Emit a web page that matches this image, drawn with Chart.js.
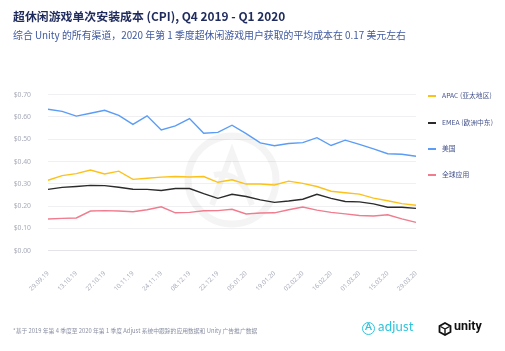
<!DOCTYPE html>
<html>
<head>
<meta charset="utf-8">
<script src="https://cdn.jsdelivr.net/npm/chart.js@4"></script>
<style>
    body { margin: 0; background: #fff; font-family: "Noto Sans CJK SC", "Noto Sans", sans-serif; }
    #wrap { position: relative; width: 505px; height: 351px; overflow: hidden; }
    #wrap canvas { position: absolute; left: 0; top: 0; }
    .title { position: absolute; left: 13px; top: 7px; font-size: 11.9px; font-weight: bold; color: #1f2b5c; white-space: nowrap; }
    .subtitle { position: absolute; left: 13px; top: 28px; font-size: 9.9px; color: #40599e; white-space: nowrap; }
    .legend { position: absolute; left: 428px; top: 0; }
    .legend-item { position: absolute; left: 0; height: 10px; white-space: nowrap; font-size: 6.8px; color: #44528c; }
    .legend-item span.mark { position: absolute; left: 0; top: 5px; width: 8px; height: 1.5px; }
    .legend-item span.txt { position: absolute; left: 14px; top: 0; line-height: 10px; }
    .footer { position: absolute; left: 13px; top: 326px; font-size: 5.8px; color: #8b90a3; white-space: nowrap; }
    .adjust { position: absolute; left: 362px; top: 321px; height: 16px; color: #2ec4dc; font-family: "Lato", sans-serif; font-size: 13px; }
    .adjust .ic { position: absolute; left: 0; top: 1px; width: 11px; height: 11px; border: 1.6px solid #2ec4dc; border-radius: 50%; }
    .adjust .ic b { position: absolute; left: 2px; top: -3px; font-size: 10px; font-weight: bold; }
    .adjust .tx { position: absolute; left: 16px; top: -3px; letter-spacing: 0.2px; }
    .unity { position: absolute; left: 438px; top: 321px; color: #111; font-family: "Roboto", sans-serif; font-weight: bold; font-size: 12.5px; }
    .unity .ic { position: absolute; left: 0; top: 1px; }
    .unity .tx { position: absolute; left: 16px; top: -3px; }
</style>
</head>
<body>
<div id="wrap">
    <canvas id="cpiChart" width="505" height="351"></canvas>
    <div class="title">超休闲游戏单次安装成本 (CPI), Q4 2019 - Q1 2020</div>
    <div class="subtitle">综合 Unity 的所有渠道，2020 年第 1 季度超休闲游戏用户获取的平均成本在 0.17 美元左右</div>
    <div class="legend" id="legend"></div>
    <div class="footer">*基于 2019 年第 4 季度至 2020 年第 1 季度 Adjust 系统中跟踪的应用数据和 Unity 广告推广数据</div>
    <div class="adjust"><div class="ic"><b>A</b></div><div class="tx">adjust</div></div>
    <div class="unity">
        <svg class="ic" width="14" height="14" viewBox="0 0 14 14">
            <path d="M7 1 L12.5 4 L12.5 10 L7 13 L1.5 10 L1.5 4 Z" fill="none" stroke="#111" stroke-width="1.8"/>
            <path d="M7 7 L7 12 M7 7 L2.5 4.5 M7 7 L11.5 4.5" stroke="#111" stroke-width="1.4"/>
        </svg>
        <div class="tx">unity</div>
    </div>
</div>
<script>
// weekly dates
const weeks = ['29.09.19', '06.10.19', '13.10.19', '20.10.19', '27.10.19', '03.11.19', '10.11.19',
    '17.11.19', '24.11.19', '01.12.19', '08.12.19', '15.12.19', '22.12.19', '29.12.19', '05.01.20',
    '12.01.20', '19.01.20', '26.01.20', '02.02.20', '09.02.20', '16.02.20', '23.02.20', '01.03.20',
    '08.03.20', '15.03.20', '22.03.20', '29.03.20'];

const apac = [0.316, 0.337, 0.346, 0.362, 0.344, 0.357, 0.320, 0.325, 0.330, 0.333, 0.331, 0.333, 0.307, 0.318,
    0.299, 0.299, 0.295, 0.312, 0.302, 0.288, 0.267, 0.260, 0.254, 0.236, 0.224, 0.211, 0.204];
const emea = [0.275, 0.284, 0.288, 0.293, 0.292, 0.285, 0.276, 0.275, 0.270, 0.279, 0.279, 0.256, 0.235, 0.253,
    0.243, 0.228, 0.217, 0.223, 0.231, 0.253, 0.235, 0.221, 0.219, 0.210, 0.195, 0.195, 0.190];
const usa = [0.635, 0.625, 0.604, 0.617, 0.630, 0.607, 0.567, 0.605, 0.542, 0.560, 0.593, 0.527, 0.531, 0.563,
    0.525, 0.484, 0.471, 0.481, 0.485, 0.507, 0.472, 0.496, 0.477, 0.457, 0.435, 0.433, 0.424];
const globalApps = [0.142, 0.145, 0.147, 0.178, 0.180, 0.178, 0.175, 0.184, 0.197, 0.170, 0.172, 0.179, 0.180, 0.186,
    0.165, 0.169, 0.170, 0.184, 0.196, 0.182, 0.172, 0.165, 0.158, 0.156, 0.161, 0.143, 0.127];

const yTicks = [0, 0.1, 0.2, 0.3, 0.4, 0.5, 0.6, 0.7];

const seriesInfo = [
    { label: 'APAC (亚太地区)', data: apac, color: '#fcc21b' },
    { label: 'EMEA (欧洲中东)', data: emea, color: '#2b2b2b' },
    { label: '美国', data: usa, color: '#5a9cf6' },
    { label: '全球应用', data: globalApps, color: '#f07c8e' }
];

// faint watermark ring behind the lines
const watermark = {
    id: 'watermark',
    beforeDatasetsDraw(chart) {
        const ctx = chart.ctx;
        ctx.save();
        ctx.strokeStyle = 'rgba(0,0,0,0.045)';
        ctx.lineWidth = 7;
        ctx.beginPath();
        ctx.arc(232, 180, 44, 0, Math.PI * 2);
        ctx.stroke();
        ctx.lineWidth = 6;
        ctx.beginPath();
        ctx.moveTo(212, 205);
        ctx.lineTo(232, 152);
        ctx.lineTo(252, 205);
        ctx.moveTo(214, 175);
        ctx.quadraticCurveTo(235, 170, 250, 195);
        ctx.stroke();
        ctx.restore();
    }
};

function buildLegend() {
    const legend = document.getElementById('legend');
    const tops = [90, 117, 143, 169];
    seriesInfo.forEach((s, i) => {
        const item = document.createElement('div');
        item.className = 'legend-item';
        item.style.top = tops[i] + 'px';
        item.innerHTML = `<span class="mark" style="background:${s.color}"></span><span class="txt">${s.label}</span>`;
        legend.appendChild(item);
    });
}

function renderChart() {
    const ctx = document.getElementById('cpiChart').getContext('2d');
    new Chart(ctx, {
        type: 'line',
        data: {
            labels: weeks,
            datasets: seriesInfo.map(s => ({
                label: s.label,
                data: s.data,
                borderColor: s.color,
                backgroundColor: s.color,
                borderWidth: 1.4,
                pointRadius: 0,
                tension: 0
            }))
        },
        options: {
            responsive: false,
            animation: false,
            layout: { padding: { top: 94.7, right: 89, bottom: 60.3, left: 0 } },
            plugins: { legend: { display: false }, tooltip: { enabled: false } },
            scales: {
                x: {
                    afterFit: scale => { scale.height = 40; },
                    grid: { display: false },
                    border: { color: '#e4e4e8', width: 1 },
                    ticks: {
                        autoSkip: false,
                        minRotation: 45,
                        maxRotation: 45,
                        padding: 11,
                        color: '#a8abba',
                        font: { size: 6.3, family: 'Noto Sans' },
                        callback: (v, i) => i % 2 === 0 ? weeks[i] : ''
                    }
                },
                y: {
                    min: 0,
                    max: 0.7,
                    afterFit: scale => { scale.width = 48; },
                    afterBuildTicks: scale => { scale.ticks = yTicks.map(v => ({ value: v })); },
                    border: { display: false },
                    grid: {
                        drawTicks: false,
                        color: ctx => ctx.tick.value === 0 ? '#e4e4e8' : '#f0f0f3',
                        lineWidth: 1
                    },
                    ticks: {
                        padding: 17,
                        color: '#a8abba',
                        font: { size: 6.8, family: 'Noto Sans' },
                        callback: v => '$' + v.toFixed(2)
                    }
                }
            }
        },
        plugins: [watermark]
    });
}

buildLegend();
renderChart();
</script>
</body>
</html>
